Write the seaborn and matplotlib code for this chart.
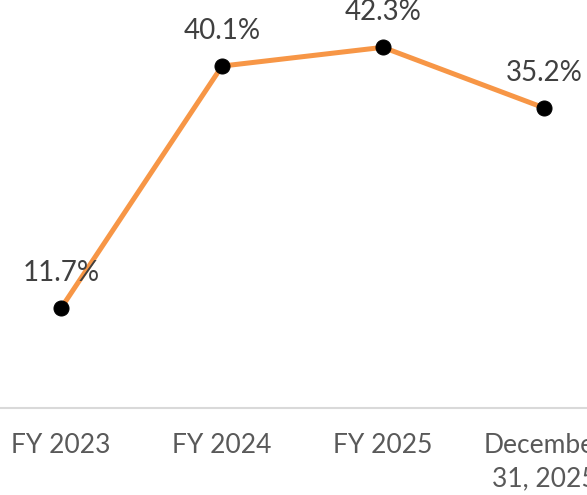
import pandas as pd
import matplotlib
matplotlib.use("Agg")
import matplotlib.pyplot as plt
import seaborn as sns

# === Data ===
categories = ["FY 2023", "FY 2024", "FY 2025", "December\n31, 2025"]
values = [11.7, 40.1, 42.3, 35.2]
labels = ["11.7%", "40.1%", "42.3%", "35.2%"]

sns.set_style("white")
plt.rcParams['font.family'] = ['Lato', 'DejaVu Sans']

df = pd.DataFrame({"period": categories, "value": values})

fig = plt.figure(figsize=(5.87, 4.95), dpi=100)
ax = fig.add_axes([0, 87 / 495, 1, 408 / 495])

sns.lineplot(
    data=df, x="period", y="value", sort=False,
    color="#F79646", linewidth=3.6,
    marker="o", markersize=10.8,
    markerfacecolor="black", markeredgecolor="black",
    ax=ax
)

# data labels above points
for i, (v, txt) in enumerate(zip(values, labels)):
    ax.annotate(txt, (i, v), xytext=(0, 27), textcoords="offset pixels",
                ha="center", va="baseline", fontsize=20, color="#404040",
                annotation_clip=False)

ax.set_xlim(-0.379, 3.267)
ax.set_ylim(0, 47.85)
ax.set_xlabel("")
ax.set_ylabel("")
ax.set_yticks([])
ax.set_xticks(range(len(categories)))
ax.set_xticklabels(categories, linespacing=1.4)
ax.tick_params(axis="x", length=0, pad=18, labelsize=19, labelcolor="#595959")

for side in ["top", "left", "right"]:
    ax.spines[side].set_visible(False)
ax.spines["bottom"].set_color("#D9D9D9")
ax.spines["bottom"].set_linewidth(1.5)

fig.savefig("out.png", dpi=100)
